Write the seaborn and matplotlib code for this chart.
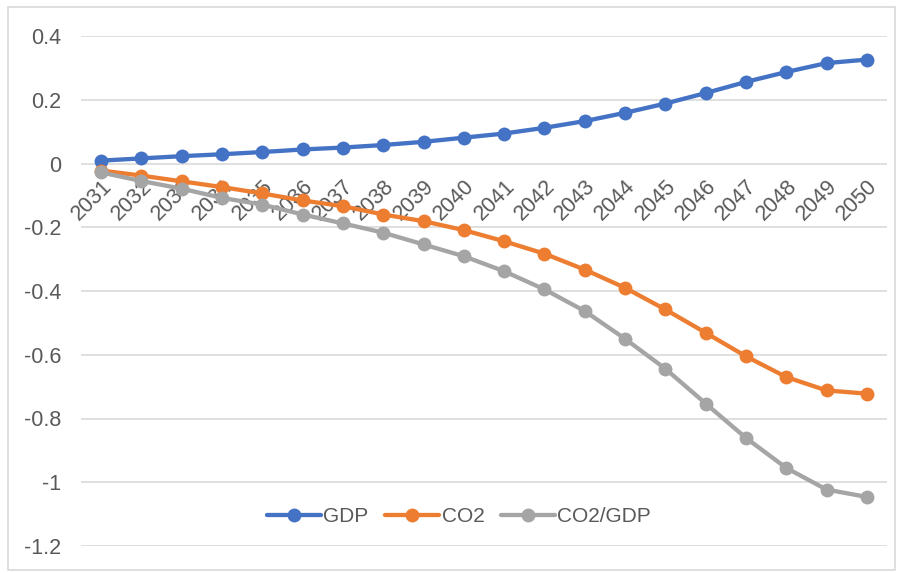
import matplotlib
matplotlib.use("Agg")
import matplotlib.pyplot as plt
import seaborn as sns
import pandas as pd
from matplotlib.lines import Line2D
from matplotlib.patches import Rectangle

years = [str(y) for y in range(2031, 2051)]
gdp = [0.009, 0.016, 0.023, 0.029, 0.036, 0.044, 0.050, 0.058, 0.068, 0.081,
       0.094, 0.112, 0.133, 0.159, 0.188, 0.221, 0.256, 0.287, 0.315, 0.326]
co2 = [-0.022, -0.038, -0.056, -0.074, -0.094, -0.116, -0.134, -0.160, -0.181, -0.209,
       -0.244, -0.283, -0.333, -0.390, -0.458, -0.531, -0.605, -0.670, -0.712, -0.722]
co2_gdp = [-0.028, -0.055, -0.079, -0.108, -0.129, -0.160, -0.188, -0.217, -0.254, -0.291,
           -0.338, -0.395, -0.463, -0.550, -0.644, -0.753, -0.861, -0.955, -1.023, -1.046]
series = ["GDP", "CO2", "CO2/GDP"]
colors = ["#4472C4", "#ED7D31", "#A5A5A5"]

df = pd.concat([
    pd.DataFrame({"year": years, "value": vals, "series": name})
    for name, vals in zip(series, [gdp, co2, co2_gdp])
])

sns.set_style("white")
plt.rcParams["font.family"] = ["Liberation Sans", "DejaVu Sans"]
text_color = "#595959"

fig = plt.figure(figsize=(9.04, 5.73), dpi=100)
ax = fig.add_axes([81 / 904, 1 - 546 / 573, 806 / 904, 510 / 573])

# lines sit on top of the rotated year labels, like in the original
sns.lineplot(data=df, x="year", y="value", hue="series", palette=colors,
             marker="o", markersize=10, markeredgewidth=0, linewidth=3.1,
             legend=False, ax=ax, sort=False)

ax.set_ylim(-1.2, 0.4)
ax.set_xlim(-0.5, len(years) - 0.5)
ax.set_yticks([0.4, 0.2, 0, -0.2, -0.4, -0.6, -0.8, -1, -1.2])
ax.set_yticklabels(["0.4", "0.2", "0", "-0.2", "-0.4", "-0.6", "-0.8", "-1", "-1.2"])
ax.grid(axis="y", color="#D9D9D9", linewidth=1.2)
ax.set_axisbelow(True)
for s in ax.spines.values():
    s.set_visible(False)
ax.spines["bottom"].set_position(("data", 0))
ax.set_xlabel("")
ax.set_ylabel("")

ax.tick_params(axis="y", length=0, pad=14, labelsize=15.5, labelcolor=text_color)
ax.tick_params(axis="x", length=0, pad=9, labelsize=15.5, labelcolor=text_color)
for lab in ax.get_xticklabels():
    lab.set_rotation(45)
    lab.set_ha("right")
    lab.set_va("top")
    lab.set_rotation_mode("anchor")

handles = [Line2D([], [], color=c, linewidth=3.1, marker="o", markersize=10,
                  markeredgewidth=0) for c in colors]
ax.legend(handles, series, loc="center", bbox_to_anchor=(0.469, 0.057),
          ncol=3, frameon=False, fontsize=15, labelcolor=text_color,
          handlelength=2.6, handletextpad=0.1, columnspacing=0.8)

fig.patches.append(Rectangle((8 / 904, 1 - 570 / 573), 887 / 904, 563 / 573,
                             transform=fig.transFigure, fill=False,
                             edgecolor="#D9D9D9", linewidth=1.2))

fig.savefig("out.png", dpi=100)
